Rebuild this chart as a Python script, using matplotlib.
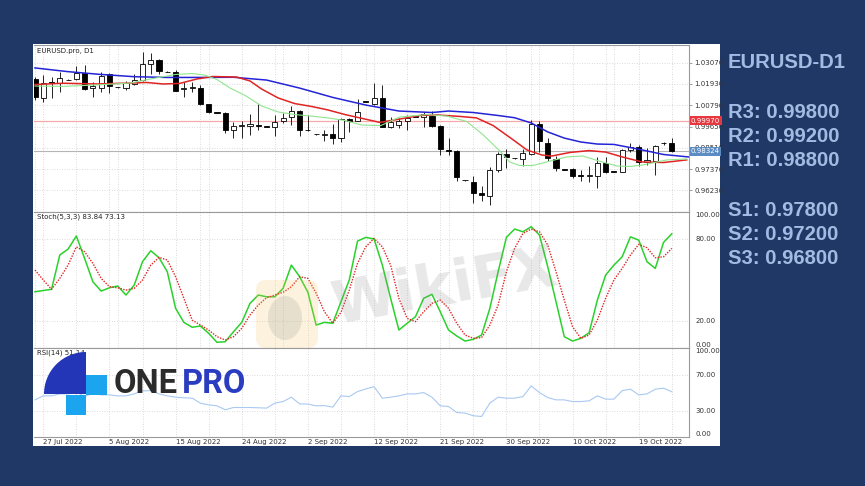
import matplotlib
matplotlib.use("Agg")
import matplotlib.pyplot as plt
import matplotlib.transforms as mtransforms
from matplotlib.patches import Rectangle, Wedge, FancyBboxPatch, Ellipse
import numpy as np
import pandas as pd

# daily bars incl. Sunday sessions (broker feed), 26 Jul - 24 Oct 2022
all_days = pd.date_range("2022-07-26", "2022-10-24")
bar_dates = all_days[all_days.dayofweek != 5]

opens = [1.0220, 1.0118, 1.0201, 1.0198, 1.0214, 1.0220, 1.0254, 1.0171, 1.0171, 1.0247,
         1.0177, 1.0171, 1.0193, 1.0212, 1.0300, 1.0319, 1.0258, 1.0257, 1.0166, 1.0171,
         1.0174, 1.0083, 1.0040, 1.0035, 0.9944, 0.9968, 0.9968, 0.9975, 0.9965, 0.9961,
         0.9995, 1.0018, 1.0048, 0.9946, 0.9924, 0.9922, 0.9925, 0.9903, 1.0005, 0.9997,
         1.0099, 1.0088, 1.0116, 0.9965, 0.9973, 0.9995, 1.0019, 1.0018, 1.0023, 0.9968,
         0.9839, 0.9834, 0.9677, 0.9670, 0.9607, 0.9595, 0.9732, 0.9816, 0.9796, 0.9792,
         0.9818, 0.9981, 0.9879, 0.9789, 0.9735, 0.9736, 0.9702, 0.9701, 0.9702, 0.9768,
         0.9724, 0.9723, 0.9839, 0.9857, 0.9776, 0.9780, 0.9874, 0.9878]
highs = [1.0230, 1.0241, 1.0230, 1.0257, 1.0217, 1.0289, 1.0295, 1.0204, 1.0257, 1.0252,
         1.0179, 1.0209, 1.0247, 1.0367, 1.0359, 1.0327, 1.0260, 1.0268, 1.0204, 1.0204,
         1.0188, 1.0088, 1.0042, 1.0045, 0.9989, 0.9995, 1.0032, 1.0088, 0.9966, 1.0027,
         1.0036, 1.0077, 1.0054, 1.0029, 0.9925, 0.9944, 0.9978, 1.0011, 1.0013, 1.0112,
         1.0100, 1.0197, 1.0188, 1.0018, 1.0012, 1.0027, 1.0020, 1.0045, 1.0048, 0.9973,
         0.9903, 0.9839, 0.9678, 0.9700, 0.9646, 0.9750, 0.9827, 0.9847, 0.9797, 0.9842,
         1.0000, 0.9995, 0.9906, 0.9807, 0.9736, 0.9741, 0.9732, 0.9753, 0.9802, 0.9804,
         0.9725, 0.9844, 0.9875, 0.9866, 0.9848, 0.9866, 0.9884, 0.9902]
lows = [1.0107, 1.0096, 1.0118, 1.0150, 1.0212, 1.0214, 1.0161, 1.0123, 1.0150, 1.0145,
        1.0174, 1.0161, 1.0190, 1.0209, 1.0247, 1.0247, 1.0255, 1.0153, 1.0123, 1.0150,
        1.0080, 1.0037, 1.0037, 0.9930, 0.9903, 0.9903, 0.9920, 0.9946, 0.9962, 0.9916,
        0.9982, 0.9973, 0.9916, 0.9941, 0.9921, 0.9887, 0.9871, 0.9882, 0.9936, 0.9992,
        1.0096, 1.0080, 0.9960, 0.9955, 0.9955, 0.9946, 1.0016, 0.9965, 0.9964, 0.9812,
        0.9812, 0.9673, 0.9674, 0.9553, 0.9566, 0.9544, 0.9721, 0.9740, 0.9793, 0.9753,
        0.9812, 0.9830, 0.9780, 0.9727, 0.9732, 0.9687, 0.9673, 0.9669, 0.9634, 0.9714,
        0.9721, 0.9720, 0.9830, 0.9756, 0.9759, 0.9705, 0.9868, 0.9830]
closes = [1.0123, 1.0198, 1.0196, 1.0225, 1.0213, 1.0252, 1.0166, 1.0182, 1.0236, 1.0182,
          1.0176, 1.0198, 1.0214, 1.0300, 1.0322, 1.0263, 1.0257, 1.0158, 1.0171, 1.0177,
          1.0086, 1.0043, 1.0039, 0.9946, 0.9969, 0.9970, 0.9976, 0.9968, 0.9964, 0.9991,
          1.0012, 1.0048, 0.9946, 0.9945, 0.9923, 0.9926, 0.9903, 1.0005, 0.9997, 1.0045,
          1.0098, 1.0118, 0.9964, 0.9987, 0.9995, 1.0012, 1.0018, 1.0030, 0.9968, 0.9842,
          0.9835, 0.9692, 0.9676, 0.9609, 0.9598, 0.9732, 0.9816, 0.9803, 0.9795, 0.9821,
          0.9981, 0.9886, 0.9794, 0.9741, 0.9734, 0.9702, 0.9701, 0.9704, 0.9772, 0.9721,
          0.9723, 0.9839, 0.9857, 0.9775, 0.9788, 0.9861, 0.9879, 0.98324]

# alligator lines (bar position, price)
jaw_x = [0, 4, 8, 12, 16, 20, 24, 28, 32, 36, 40, 44, 48, 50, 53, 56, 58, 60, 62, 64,
         66, 68, 70, 72, 74, 76, 79]
jaw_y = [1.0279, 1.0259, 1.0244, 1.0232, 1.0228, 1.0228, 1.0229, 1.0214, 1.0171, 1.0121,
         1.0080, 1.0048, 1.0040, 1.0048, 1.0040, 1.0024, 1.0012, 0.9984, 0.9936, 0.9903,
         0.9882, 0.9871, 0.9869, 0.9852, 0.9834, 0.9815, 0.9802]
teeth_x = [0, 3.4, 7.5, 11.5, 13.5, 15.5, 17.5, 19.6, 21.5, 24.4, 26, 27.4, 29.4, 31.4,
           33.5, 35.4, 37.5, 39.4, 41.7, 44.1, 46.5, 48.6, 51.4, 53.4, 55.4, 57.4, 59.5,
           61.3, 62.5, 64.7, 67, 69, 71, 73.4, 76, 78.8]
teeth_y = [1.0190, 1.0197, 1.0193, 1.0198, 1.0201, 1.0193, 1.0196, 1.0220, 1.0233, 1.0230,
           1.0209, 1.0166, 1.0118, 1.0088, 1.0072, 1.0054, 1.0029, 1.0010, 0.9987, 1.0005,
           1.0024, 1.0027, 1.0019, 1.0011, 0.9970, 0.9907, 0.9839, 0.9812, 0.9807, 0.9826,
           0.9836, 0.9828, 0.9802, 0.9775, 0.9772, 0.9786]
lips_x = [0, 3.4, 7.5, 11.5, 14, 17, 19, 20.5, 22, 23.6, 25.5, 27.4, 29.4, 31.4, 33.4,
          35.4, 37.5, 39.5, 41.8, 44.1, 47.4, 49.8, 52.2, 54.2, 56.2, 57.4, 58.6, 60.2,
          62.3, 64.3, 66.2, 68.2, 70.4, 72, 73.5, 76.4, 78.8]
lips_y = [1.0182, 1.0180, 1.0188, 1.0198, 1.0220, 1.0244, 1.0249, 1.0241, 1.0217, 1.0171,
          1.0129, 1.0075, 1.0043, 1.0029, 1.0021, 1.0011, 0.9997, 0.9973, 0.9970, 1.0016,
          1.0029, 1.0021, 0.9992, 0.9920, 0.9834, 0.9775, 0.9756, 0.9756, 0.9780, 0.9802,
          0.9807, 0.9780, 0.9753, 0.9751, 0.9759, 0.9786, 0.9791]

stoch_k = [41.4, 42.3, 43.2, 68.3, 72.6, 82.2, 65.8, 48.7, 41.9, 44.3,
           45.6, 39.0, 46.3, 63.4, 71.4, 66.3, 56.0, 29.3, 19.0, 15.4,
           16.3, 11.0, 4.4, 4.8, 12.1, 19.0, 32.9, 39.0, 37.7, 37.7,
           43.9, 60.9, 52.4, 41.0, 17.0, 19.0, 18.3, 34.1, 50.0, 78.5,
           81.2, 80.0, 60.9, 36.6, 13.4, 18.3, 23.1, 36.6, 39.5, 26.8,
           13.4, 9.0, 5.3, 6.6, 9.7, 29.3, 56.0, 81.2, 87.3, 85.3,
           89.0, 82.9, 59.7, 34.1, 8.5, 5.3, 7.3, 11.4, 35.3, 53.6,
           60.9, 67.0, 81.6, 79.2, 63.4, 58.5, 77.5, 83.84]
stoch_d = [57.3, 50.0, 43.2, 51.2, 60.9, 74.3, 70.7, 62.2, 51.2, 45.1,
           44.3, 42.6, 43.9, 50.0, 60.9, 66.6, 64.6, 52.4, 36.6, 20.7,
           17.0, 13.4, 8.5, 6.1, 8.5, 14.6, 24.4, 31.7, 37.0, 39.0,
           41.0, 45.1, 52.4, 51.2, 40.2, 26.8, 18.3, 26.3, 42.6, 62.2,
           74.3, 80.5, 74.3, 60.9, 36.6, 21.9, 19.5, 26.8, 32.9, 35.3,
           29.3, 18.3, 9.7, 7.3, 7.8, 17.0, 31.7, 56.0, 73.2, 84.1,
           87.3, 85.3, 75.6, 56.0, 35.3, 15.8, 7.3, 9.7, 20.7, 36.6,
           50.0, 58.5, 68.3, 76.1, 73.6, 66.3, 67.0, 73.13]
rsi = [42.0, 46.5, 46.5, 48.7, 48.7, 51.0, 45.7, 49.5, 47.6, 47.6,
       46.5, 46.5, 48.7, 52.1, 52.4, 48.7, 46.5, 45.0, 44.3, 43.9,
       38.3, 36.4, 35.3, 30.8, 33.4, 33.4, 33.4, 33.1, 32.7, 38.3,
       40.1, 45.0, 37.5, 37.2, 35.3, 35.6, 33.8, 46.5, 45.7, 51.3,
       54.3, 56.9, 43.9, 45.0, 46.5, 48.7, 48.7, 50.2, 45.0, 35.3,
       34.5, 27.8, 27.1, 24.1, 23.3, 38.3, 45.0, 43.9, 43.9, 45.7,
       57.7, 50.2, 44.6, 42.0, 42.0, 40.1, 40.1, 40.9, 46.5, 42.8,
       42.8, 52.4, 54.0, 47.6, 48.7, 54.0, 55.1, 51.14]

price_ticks = [1.03070, 1.01930, 1.00790, 0.99650, 0.98510, 0.97370, 0.96230]
level_price = 0.99970
last_price = 0.98324
label_dates = ["2022-07-27", "2022-08-05", "2022-08-15", "2022-08-24", "2022-09-02",
               "2022-09-12", "2022-09-21", "2022-09-30", "2022-10-10", "2022-10-19"]
pivots = ["R3: 0.99800", "R2: 0.99200", "R1: 0.98800",
          "S1: 0.97800", "S2: 0.97200", "S3: 0.96800"]

W, H = 865, 486
BG = "#1f3866"
GRID = "#cfcfcf"
TXT = "#333333"

fig = plt.figure(figsize=(W / 100, H / 100), dpi=100)
fig.patch.set_facecolor(BG)

# white chart panel
bg = fig.add_axes([0, 0, 1, 1], zorder=-1)
bg.set_xlim(0, W)
bg.set_ylim(H, 0)
bg.axis("off")
bg.add_patch(Rectangle((33, 44), 687, 402, facecolor="white", edgecolor="none"))


def panel(top, bottom):
    return fig.add_axes([34 / W, 1 - bottom / H, (689 - 34) / W, (bottom - top) / H])


ax1 = panel(45, 211.7)
ax2 = panel(211.7, 348.3)
ax3 = panel(348.3, 437.2)

x = np.arange(len(bar_dates))
grid_pos = np.arange(1, len(x) + 2, 4)

for ax in (ax1, ax2, ax3):
    ax.set_xlim(-0.12, 79.08)
    ax.spines["left"].set_visible(False)
    for s in ("top", "right", "bottom"):
        ax.spines[s].set_color("#9a9a9a")
        ax.spines[s].set_linewidth(0.8)
    ax.set_xticks(grid_pos, minor=True)
    ax.grid(axis="x", which="both", color=GRID, linestyle=(0, (1, 2)), linewidth=0.6)
    ax.set_axisbelow(True)
    ax.tick_params(axis="x", which="both", bottom=False, labelbottom=False)
    ax.yaxis.tick_right()
    ax.tick_params(axis="y", length=2, width=0.5, color="#777777", labelsize=5,
                   labelcolor=TXT, pad=2)

# --- price panel ---
o = np.array(opens); h = np.array(highs); l = np.array(lows); c = np.array(closes)
ax1.vlines(x, l, h, color="black", linewidth=0.6, zorder=2)
up = c >= o
body_low = np.minimum(o, c)
body_h = np.maximum(np.abs(c - o), 0.00025)
ax1.bar(x, body_h, bottom=body_low, width=0.62,
        color=np.where(up, "white", "black"), edgecolor="black", linewidth=0.6, zorder=3)
ax1.plot(jaw_x, jaw_y, color="#2424d6", linewidth=1.1, zorder=4)
ax1.plot(teeth_x, teeth_y, color="#e02424", linewidth=1.1, zorder=4)
ax1.plot(lips_x, lips_y, color="#8fe68f", linewidth=0.8, zorder=4)
ax1.axhline(level_price, color="#f7a8a8", linewidth=0.9, zorder=1)
ax1.axhline(last_price, color="#b5b5b5", linewidth=0.8, zorder=1)
for p in price_ticks:
    ax1.axhline(p, color=GRID, linestyle=(0, (1, 2)), linewidth=0.6, zorder=0)
ax1.set_ylim(0.95084, 1.04019)
ax1.set_yticks(price_ticks)
ax1.set_yticklabels([f"{p:.5f}" for p in price_ticks])
ax1.text(0.004, 0.985, "EURUSD.pro, D1", transform=ax1.transAxes, fontsize=5,
         color="#222222", va="top", ha="left")
tr1 = mtransforms.blended_transform_factory(ax1.transAxes, ax1.transData)
ax1.text(1.003, level_price, f"{level_price:.5f}", transform=tr1, fontsize=5, color="white",
         va="center", ha="left", zorder=6, clip_on=False,
         bbox=dict(boxstyle="square,pad=0.2", fc="#e6383e", ec="none"))
ax1.text(1.003, last_price, f"{last_price:.5f}", transform=tr1, fontsize=5, color="white",
         va="center", ha="left", zorder=6, clip_on=False,
         bbox=dict(boxstyle="square,pad=0.2", fc="#5b8cc2", ec="none"))

# --- stochastic panel ---
ax2.plot(x, stoch_k, color="#2bd12b", linewidth=1.1)
ax2.plot(x, stoch_d, color="#e02424", linewidth=1.0, linestyle=(0, (1, 1)))
for lv in (80, 20):
    ax2.axhline(lv, color=GRID, linestyle=(0, (1, 2)), linewidth=0.6, zorder=0)
ax2.set_ylim(0, 100)
ax2.set_yticks([])
tr2 = mtransforms.blended_transform_factory(ax2.transAxes, ax2.transData)
for lv, va in ((100, "top"), (80, "center"), (20, "center"), (0, "bottom")):
    ax2.text(1.01, lv, f"{lv:.2f}", transform=tr2, fontsize=5, color=TXT, va=va,
             ha="left", clip_on=False)
ax2.text(0.004, 0.985, f"Stoch(5,3,3) {stoch_k[-1]:.2f} {stoch_d[-1]:.2f}",
         transform=ax2.transAxes, fontsize=5, color="#222222", va="top", ha="left")

# --- RSI panel ---
ax3.plot(x, rsi, color="#a9c9f2", linewidth=0.8)
for lv in (70, 30):
    ax3.axhline(lv, color=GRID, linestyle=(0, (1, 2)), linewidth=0.6, zorder=0)
ax3.set_ylim(0, 100)
ax3.set_yticks([])
tr3 = mtransforms.blended_transform_factory(ax3.transAxes, ax3.transData)
for lv, va in ((100, "top"), (70, "center"), (30, "center"), (0, "bottom")):
    ax3.text(1.01, lv, f"{lv:.2f}", transform=tr3, fontsize=5, color=TXT, va=va,
             ha="left", clip_on=False)
ax3.text(0.004, 0.985, f"RSI(14) {rsi[-1]:.2f}", transform=ax3.transAxes, fontsize=5,
         color="#222222", va="top", ha="left")

lab_idx = [bar_dates.get_loc(pd.Timestamp(d)) for d in label_dates]
ax3.set_xticks(lab_idx)
ax3.set_xticklabels([f"{pd.Timestamp(d).day} {pd.Timestamp(d):%b %Y}" for d in label_dates],
                    ha="left")
ax3.tick_params(axis="x", which="major", bottom=True, labelbottom=True, length=0,
                labelsize=5, labelcolor=TXT, pad=1)

# --- overlay: watermarks, logo, pivot levels ---
ov = fig.add_axes([0, 0, 1, 1], zorder=10)
ov.set_xlim(0, W)
ov.set_ylim(H, 0)
ov.axis("off")
ov.patch.set_alpha(0)

ov.add_patch(FancyBboxPatch((256, 280), 62, 68, boxstyle="round,pad=0,rounding_size=10",
                            fc="#f4c766", ec="none", alpha=0.22))
ov.add_patch(Ellipse((285, 318), 34, 44, fc="#8a8a8a", ec="none", alpha=0.18))
ov.text(445, 288, "WikiFX", fontsize=42, fontweight="bold", color="#8c8c8c", alpha=0.2,
        rotation=10, ha="center", va="center")

ov.add_patch(Wedge((86, 394), 42, 180, 270, fc="#2336b8", ec="none"))
ov.add_patch(Rectangle((86, 375), 21, 20, fc="#1ba5ee", ec="none"))
ov.add_patch(Rectangle((66, 395), 20, 20, fc="#1ba5ee", ec="none"))
ov.text(114, 384, "ONE", fontsize=23.5, fontweight="bold", family="Roboto", color="#2b2b2b",
        ha="left", va="center")
ov.text(182, 384, "PRO", fontsize=23.5, fontweight="bold", family="Roboto", color="#2a3cc0",
        ha="left", va="center")

side = dict(fontsize=14.6, fontweight="bold", family="Liberation Sans", color="#a3bbe2",
            ha="left", va="center")
ov.text(728, 62, "EURUSD-D1", **side)
for txt, yy in zip(pivots, [112, 136.5, 160.5, 210.5, 234, 258]):
    ov.text(728, yy, txt, **side)

fig.savefig("out.png", dpi=100, facecolor=fig.get_facecolor())
